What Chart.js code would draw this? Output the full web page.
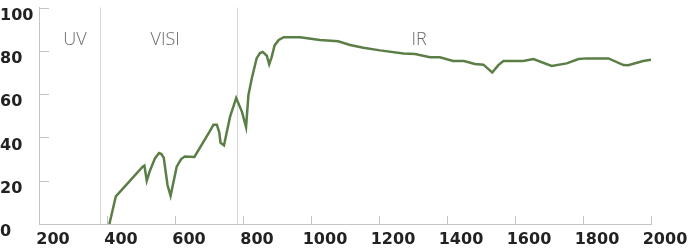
<!DOCTYPE html>
<html>
<head>
<meta charset="utf-8">
<script src="https://cdn.jsdelivr.net/npm/chart.js@4/dist/chart.umd.min.js"></script>
<style>
  html, body { margin: 0; padding: 0; background: #fff; overflow: hidden; }
  #wrap { width: 690px; height: 249px; position: relative; }
  canvas { display: block; }
</style>
</head>
<body>
<div id="wrap"><canvas id="transmission"></canvas></div>
<script>
// wavelength (nm) and transmittance (%)
let wavelength = [407, 426, 505, 510, 517, 526, 541, 553, 560, 567, 578, 587, 605, 618, 629, 657,
    703, 713, 723, 730, 734, 744, 762, 780, 797, 809, 816, 826, 840, 850, 858, 870, 877, 884,
    893, 905, 920, 968, 1026, 1080, 1115, 1154, 1203, 1272, 1306, 1350, 1379, 1418, 1450,
    1482, 1507, 1533, 1551, 1566, 1624, 1654, 1708, 1752, 1787, 1811, 1875, 1919, 1933, 1977, 2000]
let transmittance = [0, 12.8, 26.5, 27, 20, 24.5, 30.3, 32.8, 32.3, 30.5, 18, 13, 26.5, 30, 31.2, 31,
    43, 45.8, 45.8, 42.5, 37.5, 36.3, 49.6, 58.2, 51.8, 44.8, 59.6, 67.3, 76.5, 79, 79.5, 77.7, 73.8, 77,
    82.5, 85, 86.3, 86.3, 85, 84.4, 82.7, 81.4, 80.2, 78.8, 78.5, 77, 77, 75.3, 75.3,
    73.9, 73.6, 70, 73.4, 75.3, 75.3, 76.2, 73, 74.2, 76.2, 76.5, 76.5, 73.4, 73.3, 75.3, 75.9]

// band names and the borders between them
let bandNames = ["UV", "VISI", "IR"]
let bandLabelAt = [306, 571, 1318]
let bandBorders = [380, 782]

let xTicks = [200, 400, 600, 800, 1000, 1200, 1400, 1600, 1800, 2000]
let yTicks = [0, 20, 40, 60, 80, 100]

const axisGray = "#c4c4c4"

let points = []
wavelength.forEach((wl, i) => {
    points.push({ x: wl, y: transmittance[i] })
})

// inner tick marks, band borders and band names
const decor = {
    id: "decor",
    beforeDatasetsDraw(chart) {
        const ctx = chart.ctx
        const xs = chart.scales.x
        const ys = chart.scales.y
        ctx.save()
        ctx.strokeStyle = "#d6d6d6"
        ctx.lineWidth = 1
        bandBorders.forEach(b => {
            const px = Math.round(xs.getPixelForValue(b)) + 0.5
            ctx.beginPath()
            ctx.moveTo(px, ys.getPixelForValue(100))
            ctx.lineTo(px, ys.getPixelForValue(0))
            ctx.stroke()
        })

        ctx.strokeStyle = axisGray
        yTicks.forEach(t => {
            const py = Math.round(ys.getPixelForValue(t)) + 0.5
            ctx.beginPath()
            ctx.moveTo(xs.left, py)
            ctx.lineTo(xs.left + 10, py)
            ctx.stroke()
        })
        xTicks.forEach(t => {
            const px = Math.round(xs.getPixelForValue(t)) + 0.5
            ctx.beginPath()
            ctx.moveTo(px, ys.bottom)
            ctx.lineTo(px, ys.bottom - 8)
            ctx.stroke()
        })

        ctx.fillStyle = "#6a6a6a"
        ctx.font = "300 18px 'Open Sans', 'DejaVu Sans', sans-serif"
        ctx.textAlign = "center"
        ctx.textBaseline = "middle"
        bandNames.forEach((name, i) => {
            ctx.fillText(name, xs.getPixelForValue(bandLabelAt[i]), ys.getPixelForValue(85.2))
        })
        ctx.restore()
    }
}

new Chart("transmission", {
    type: "line",
    data: {
        datasets: [{
            data: points,
            borderColor: "#5b7e47",
            borderWidth: 2.5,
            pointRadius: 0,
            tension: 0,
            fill: false
        }]
    },
    options: {
        responsive: true,
        maintainAspectRatio: false,
        animation: false,
        layout: {
            autoPadding: false,
            padding: { left: 0, right: 39, top: 7.5, bottom: 0 }
        },
        plugins: {
            legend: { display: false },
            tooltip: { enabled: false }
        },
        scales: {
            x: {
                type: "linear",
                min: 200,
                max: 2000,
                afterFit(scale) { scale.height = 25 },
                afterBuildTicks(scale) { scale.ticks = xTicks.map(v => ({ value: v })) },
                grid: { display: false, drawTicks: false },
                border: { color: axisGray, width: 1 },
                ticks: {
                    labelOffset: 14,
                    padding: 6,
                    color: "#222",
                    callback: v => String(v),
                    font: { family: "'DejaVu Sans', sans-serif", size: 16, weight: "bold" }
                }
            },
            y: {
                min: 0,
                max: 100,
                afterFit(scale) { scale.width = 39 },
                afterBuildTicks(scale) { scale.ticks = yTicks.map(v => ({ value: v })) },
                grid: { display: false, drawTicks: false },
                border: { color: axisGray, width: 1 },
                ticks: {
                    align: "start",
                    crossAlign: "far",
                    padding: 0,
                    labelOffset: 0,
                    color: "#222",
                    callback: v => String(v),
                    font: { family: "'DejaVu Sans', sans-serif", size: 16, weight: "bold" }
                }
            }
        }
    },
    plugins: [decor]
})
</script>
</body>
</html>
